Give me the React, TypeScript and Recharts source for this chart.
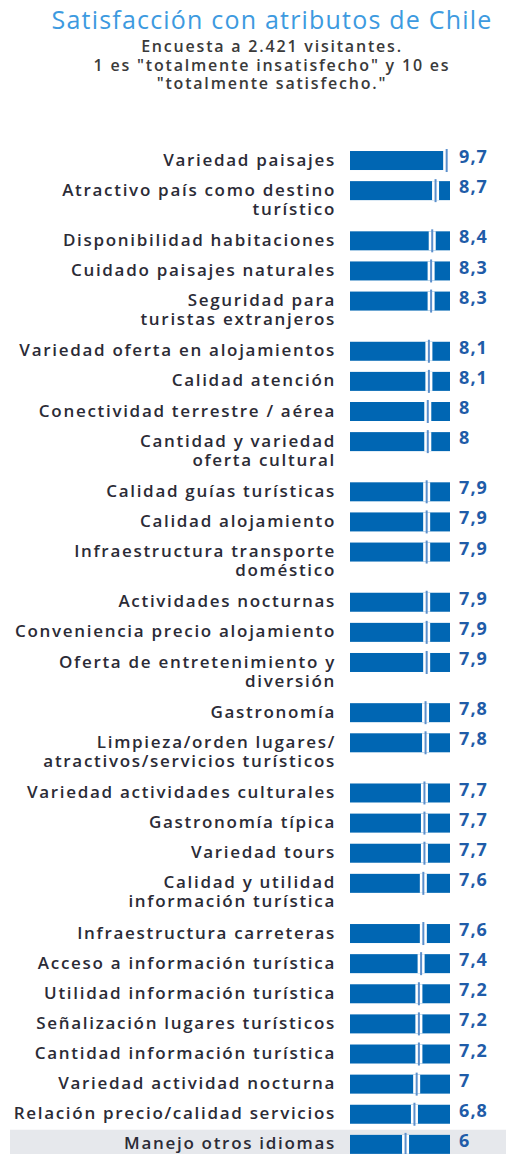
import { BarChart, Bar, XAxis, YAxis, ReferenceArea } from "recharts";

const labels = [
  "Variedad paisajes",
  "Atractivo país como destino\nturístico",
  "Disponibilidad habitaciones",
  "Cuidado paisajes naturales",
  "Seguridad para\nturistas extranjeros",
  "Variedad oferta en alojamientos",
  "Calidad atención",
  "Conectividad terrestre / aérea",
  "Cantidad y variedad\noferta cultural",
  "Calidad guías turísticas",
  "Calidad alojamiento",
  "Infraestructura transporte\ndoméstico",
  "Actividades nocturnas",
  "Conveniencia precio alojamiento",
  "Oferta de entretenimiento y\ndiversión",
  "Gastronomía",
  "Limpieza/orden lugares/\natractivos/servicios turísticos",
  "Variedad actividades culturales",
  "Gastronomía típica",
  "Variedad tours",
  "Calidad y utilidad\ninformación turística",
  "Infraestructura carreteras",
  "Acceso a información turística",
  "Utilidad información turística",
  "Señalización lugares turísticos",
  "Cantidad información turística",
  "Variedad actividad nocturna",
  "Relación precio/calidad servicios",
  "Manejo otros idiomas",
];

const scores = [
  9.7, 8.7, 8.4, 8.3, 8.3, 8.1, 8.1, 8, 8, 7.9, 7.9, 7.9, 7.9, 7.9, 7.9, 7.8,
  7.8, 7.7, 7.7, 7.7, 7.6, 7.6, 7.4, 7.2, 7.2, 7.2, 7, 6.8, 6,
];

const scaleMin = 1;
const scaleMax = 10;

const title = "Satisfacción con atributos de Chile";
const subtitle = [
  "Encuesta a 2.421 visitantes.",
  '1 es "totalmente insatisfecho" y 10 es',
  '"totalmente satisfecho."',
];

const BLUE = "#0066b3";
const FONT = "'Open Sans', sans-serif";

// row slot: one-line rows take 3 units, two-line rows 5
let cursor = 0;
const data = labels.map((name, i) => {
  const row = { name, value: scores[i], pos: cursor };
  cursor += name.includes("\n") ? 5 : 3;
  return row;
});
const lastPos = data[data.length - 1].pos;
const positions = data.map((d) => d.pos);
const byPos = new Map(data.map((d) => [d.pos, d]));

function NameTick({ x, y, payload }: any) {
  const row = byPos.get(payload.value);
  if (!row) return null;
  const lines = row.name.split("\n");
  return (
    <g>
      {lines.map((l: string, k: number) => (
        <text
          key={k}
          x={x}
          y={y + 5.5 + k * 19}
          textAnchor="end"
          fontFamily={FONT}
          fontSize={17}
          fontWeight={600}
          fill="#2b2b36"
          letterSpacing={1.7}
        >
          {l}
        </text>
      ))}
    </g>
  );
}

function ValueTick({ x, y, payload }: any) {
  const row = byPos.get(payload.value);
  if (!row) return null;
  return (
    <text
      x={x}
      y={y + 3}
      textAnchor="start"
      fontFamily={FONT}
      fontSize={18}
      fontWeight={700}
      fill="#1f5ca8"
      letterSpacing={1.1}
    >
      {String(row.value).replace(".", ",")}
    </text>
  );
}

function Marker({ x, y, width, height, background }: any) {
  const end = x + width;
  const bg = background || { x, y, width: width, height };
  return (
    <g>
      <rect x={bg.x} y={y} width={bg.width} height={height} fill={BLUE} />
      <rect x={end - 3.5} y={y} width={7} height={height} fill="#ffffff" />
      <rect x={end - 1} y={y - 2} width={2} height={height + 4} fill="#5b8fcc" />
    </g>
  );
}

export default function App() {
  return (
    <div
      style={{
        position: "absolute",
        left: 0,
        top: 0,
        width: 506,
        height: 1154,
        background: "#fff",
        overflow: "hidden",
      }}
    >
      <div
        style={{
          position: "absolute",
          top: 5,
          left: 38,
          right: 0,
          textAlign: "center",
          fontFamily: FONT,
          color: "#3d9ae0",
          fontSize: 25,
          letterSpacing: 1.2,
          lineHeight: "28px",
        }}
      >
        {title}
      </div>
      <div
        style={{
          position: "absolute",
          top: 37,
          left: 38,
          right: 0,
          textAlign: "center",
          fontFamily: FONT,
          color: "#3a3a3a",
          fontSize: 16,
          fontWeight: 600,
          letterSpacing: 1.8,
          lineHeight: "18.5px",
        }}
      >
        {subtitle.map((s) => (
          <div key={s}>{s}</div>
        ))}
      </div>
      <div style={{ position: "absolute", left: 0, top: 0 }}>
        <BarChart
          width={506}
          height={1170}
          data={data}
          layout="vertical"
          margin={{ top: 140, right: 0, bottom: 6, left: 0 }}
        >
          <XAxis type="number" domain={[scaleMin, scaleMax]} hide />
          <YAxis
            yAxisId="left"
            type="number"
            dataKey="pos"
            domain={[-2, lastPos + 2]}
            ticks={positions}
            interval={0}
            width={350}
            axisLine={false}
            tickLine={false}
            tickMargin={8}
            tick={<NameTick />}
          />
          <YAxis
            yAxisId="right"
            orientation="right"
            type="number"
            dataKey="pos"
            domain={[-2, lastPos + 2]}
            ticks={positions}
            interval={0}
            width={56}
            axisLine={false}
            tickLine={false}
            tickMargin={3}
            tick={<ValueTick />}
          />
          <ReferenceArea
            yAxisId="left"
            y1={lastPos - 1.4}
            y2={lastPos + 1.4}
            x1={-29.6}
            x2={15.1}
            ifOverflow="visible"
            fill="#e6e8ec"
            fillOpacity={1}
            stroke="none"
          />
          <Bar
            yAxisId="left"
            dataKey="value"
            barSize={19}
            fill={BLUE}
            shape={<Marker />}
            isAnimationActive={false}
          />
        </BarChart>
      </div>
    </div>
  );
}
